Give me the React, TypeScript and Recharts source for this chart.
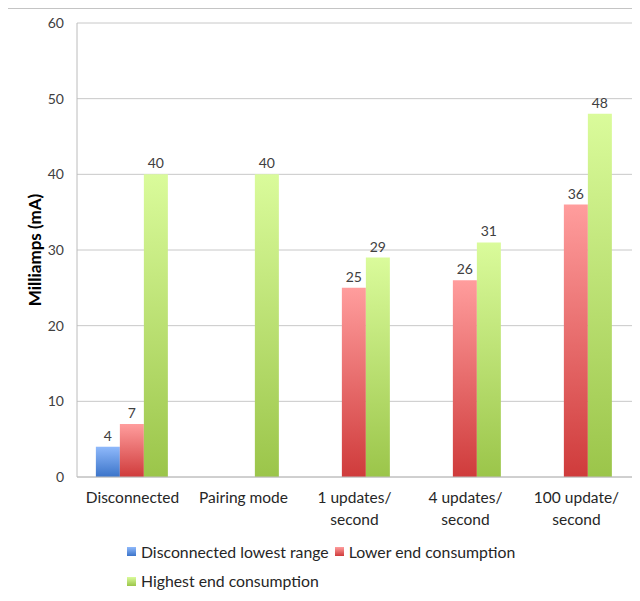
import { Bar, BarChart, CartesianGrid, LabelList, Legend, XAxis, YAxis } from 'recharts'

// current draw per operating mode, in mA
const categories = ['Disconnected', 'Pairing mode', '1 updates/ second', '4 updates/ second', '100 update/ second']
const lowestRange = [4, null, null, null, null]
const lowerEnd = [7, null, 25, 26, 36]
const highestEnd = [40, 40, 29, 31, 48]
const yTicks = [0, 10, 20, 30, 40, 50, 60]

const seriesNames = ['Disconnected lowest range', 'Lower end consumption', 'Highest end consumption']

const chartData = categories.map((name, i) => ({
    name,
    lowest: lowestRange[i],
    lower: lowerEnd[i],
    highest: highestEnd[i],
}))

const FONT = 'Lato, "Open Sans", sans-serif'

const gradients = [
    { id: 'gBlue', top: '#8fb9fb', bottom: '#3b74c9' },
    { id: 'gRed', top: '#ff9d9d', bottom: '#cf3b3b' },
    { id: 'gGreen', top: '#dafb9b', bottom: '#9bc54a' },
]

const CategoryTick = (props: any) => {
    const { x, y, payload } = props
    // break after the slash, like "1 updates/" + "second"
    const lines = String(payload.value).split(/(?<=\/)\s/)
    return (
        <text x={x} y={y} textAnchor="middle" fill="#262626" fontSize={15.5} fontFamily={FONT}>
            {lines.map((l, i) => (
                <tspan key={i} x={x} dy={i === 0 ? 26 : 22}>{l}</tspan>
            ))}
        </text>
    )
}

const LegendBox = () => {
    const item = (idx: number) => (
        <span style={{ display: 'inline-flex', alignItems: 'center', marginRight: 6 }}>
            <span style={{
                display: 'inline-block', width: 9, height: 9, marginRight: 5,
                background: `linear-gradient(${gradients[idx].top}, ${gradients[idx].bottom})`,
            }} />
            {seriesNames[idx]}
        </span>
    )
    return (
        <div style={{ fontFamily: FONT, fontSize: 15.8, color: '#262626', lineHeight: '28px', textAlign: 'left' }}>
            <div>{item(0)}{item(1)}</div>
            <div>{item(2)}</div>
        </div>
    )
}

export default function App() {
    return (
        <div style={{ position: 'relative', width: 640, height: 601, margin: -8, overflow: 'hidden', background: '#fff' }}>
            <div style={{ position: 'absolute', left: 7, top: 8, width: 660, height: 620, border: '1px solid #c4c4c4' }} />
            <BarChart
                width={640}
                height={601}
                data={chartData}
                margin={{ top: 23, right: 8, bottom: 74, left: 0 }}
                barCategoryGap="17%"
                barGap={0}
            >
                <defs>
                    {gradients.map(g => (
                        <linearGradient key={g.id} id={g.id} x1="0" y1="0" x2="0" y2="1">
                            <stop offset="0%" stopColor={g.top} />
                            <stop offset="100%" stopColor={g.bottom} />
                        </linearGradient>
                    ))}
                </defs>
                <CartesianGrid vertical={false} stroke="#c8c8c8" />
                <XAxis
                    dataKey="name"
                    height={50}
                    stroke="#bcbcbc"
                    tickLine={false}
                    tickSize={0}
                    tickMargin={0}
                    interval={0}
                    tick={<CategoryTick />}
                />
                <YAxis
                    width={77}
                    domain={[0, 60]}
                    ticks={yTicks}
                    stroke="#bcbcbc"
                    tickLine={false}
                    tickMargin={7}
                    tick={{ fill: '#404040', fontSize: 14, fontFamily: FONT }}
                    label={{
                        value: 'Milliamps (mA)', angle: -90, position: 'insideLeft', offset: 35,
                        style: { textAnchor: 'middle', fontWeight: 700, fontSize: 17, fill: '#000', fontFamily: FONT },
                    }}
                />
                <Legend
                    layout="horizontal"
                    verticalAlign="middle"
                    align="center"
                    wrapperStyle={{ top: 536, left: 127, width: 480 }}
                    content={<LegendBox />}
                />
                <Bar dataKey="lowest" name={seriesNames[0]} fill="url(#gBlue)" isAnimationActive={false}>
                    <LabelList dataKey="lowest" position="top" offset={6} fill="#404040" fontSize={14} fontFamily={FONT} />
                </Bar>
                <Bar dataKey="lower" name={seriesNames[1]} fill="url(#gRed)" isAnimationActive={false}>
                    <LabelList dataKey="lower" position="top" offset={6} fill="#404040" fontSize={14} fontFamily={FONT} />
                </Bar>
                <Bar dataKey="highest" name={seriesNames[2]} fill="url(#gGreen)" isAnimationActive={false}>
                    <LabelList dataKey="highest" position="top" offset={6} fill="#404040" fontSize={14} fontFamily={FONT} />
                </Bar>
            </BarChart>
        </div>
    )
}
